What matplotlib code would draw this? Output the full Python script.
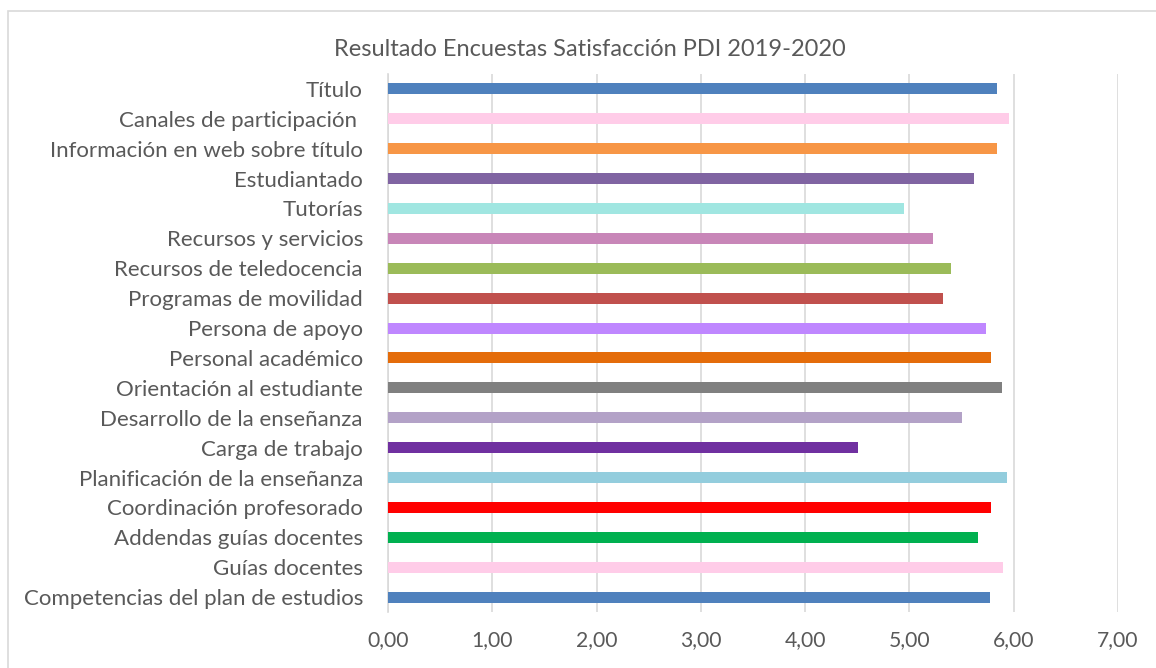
import matplotlib
matplotlib.use("Agg")
import matplotlib.pyplot as plt
from matplotlib.patches import Rectangle

categories = [
    "Título",
    "Canales de participación ",
    "Información en web sobre título",
    "Estudiantado",
    "Tutorías",
    "Recursos y servicios",
    "Recursos de teledocencia",
    "Programas de movilidad",
    "Persona de apoyo",
    "Personal académico",
    "Orientación al estudiante",
    "Desarrollo de la enseñanza",
    "Carga de trabajo",
    "Planificación de la enseñanza",
    "Coordinación profesorado",
    "Addendas guías docentes",
    "Guías docentes",
    "Competencias del plan de estudios",
]
values = [5.84, 5.95, 5.84, 5.62, 4.95, 5.23, 5.40, 5.32, 5.73,
          5.78, 5.89, 5.50, 4.51, 5.94, 5.78, 5.66, 5.90, 5.77]
colors = ["#4F81BD", "#FFCCE8", "#F79646", "#8064A2", "#A0E6E1", "#C886B8",
          "#9BBB59", "#C0504D", "#BF87FF", "#E46C0A", "#808080", "#B3A2C7",
          "#7030A0", "#93CDDD", "#FF0000", "#00B050", "#FFCCE8", "#4F81BD"]
xticks = [0, 1, 2, 3, 4, 5, 6, 7]
xticklabels = ["0,00", "1,00", "2,00", "3,00", "4,00", "5,00", "6,00", "7,00"]
title = "Resultado Encuestas Satisfacción PDI 2019-2020"

plt.rcParams['font.family'] = ['Lato', 'DejaVu Sans']
fig = plt.figure(figsize=(11.56, 6.68), dpi=100)
fig.patches.append(Rectangle((8/1156, -0.1), 1.5, 1 - 11/668 + 0.1, transform=fig.transFigure,
                             fill=False, edgecolor="#D9D9D9", linewidth=1.2))
ax = fig.add_axes([388/1156, 1 - 612/668, (1118 - 388)/1156, (612 - 74)/668])

n = len(categories)
ypos = [n - 1 - i for i in range(n)]
ax.barh(ypos, values, height=0.37, color=colors, zorder=3)
ax.set_xlim(0, 7)
ax.set_ylim(-0.5, n - 0.5)
ax.set_yticks(ypos)
ax.set_yticklabels(categories, fontsize=16, color="#595959")
ax.set_xticks(xticks)
ax.set_xticklabels(xticklabels, fontsize=15.2, color="#595959")
ax.tick_params(axis='y', length=0, pad=18)
ax.tick_params(axis='x', length=0, pad=13)
ax.grid(axis='x', color="#D9D9D9", linewidth=1.2, zorder=0)
for s in ["top", "right", "bottom"]:
    ax.spines[s].set_visible(False)
ax.spines["left"].set_color("#D9D9D9")
ax.spines["left"].set_linewidth(1.2)
fig.text(590/1156, 1 - 50/668, title, ha="center", va="center", fontsize=17, color="#595959")

fig.savefig("out.png", dpi=100)
